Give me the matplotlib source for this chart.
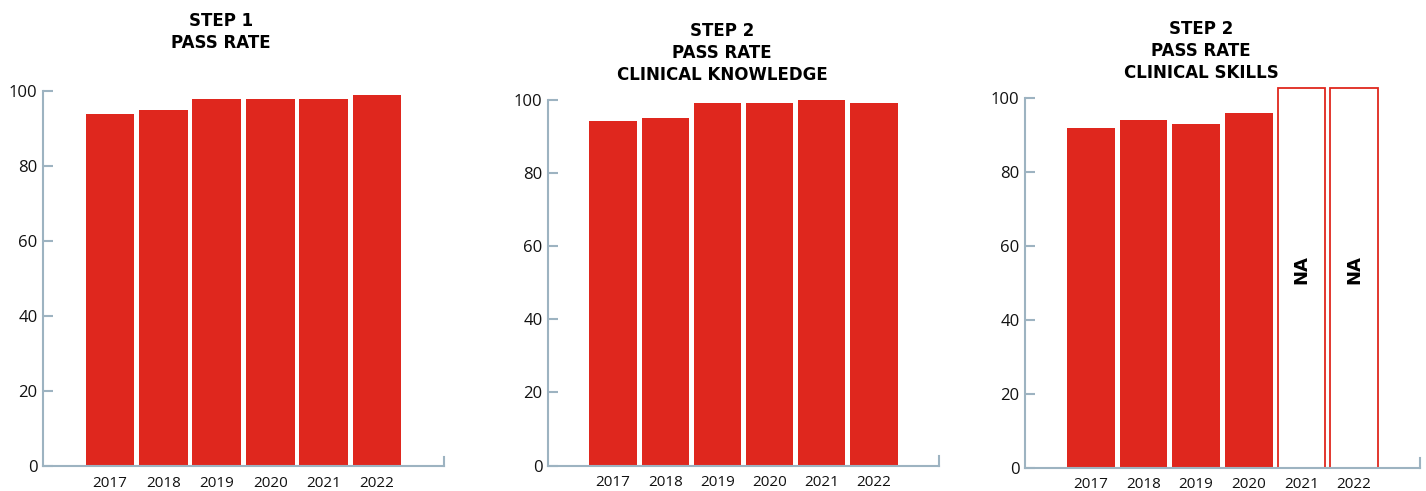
import numpy as np
import matplotlib
matplotlib.use("Agg")
import matplotlib.pyplot as plt

years = ["2017", "2018", "2019", "2020", "2021", "2022"]
step1_pass = [94, 95, 98, 98, 98, 99]
step2_ck_pass = [94, 95, 99, 99, 100, 99]
step2_cs_pass = [92, 94, 93, 96, np.nan, np.nan]
titles = ["STEP 1\nPASS RATE",
          "STEP 2\nPASS RATE\nCLINICAL KNOWLEDGE",
          "STEP 2\nPASS RATE\nCLINICAL SKILLS"]
na_label = "NA"
na_height = 102.7

BAR = "#df271e"
AXIS = "#9db3c1"
W, H = 1426, 491

fig = plt.figure(figsize=(W / 100, H / 100), dpi=100)

# pixel boxes: left, right, y of 0, y of 100
boxes = [(43, 444, 466, 91), (548, 939, 465.5, 99.5), (1025, 1420, 467.5, 98)]
title_pos = [(221, 12), (722, 22), (1201, 20)]
series = [step1_pass, step2_ck_pass, step2_cs_pass]

for vals, (l, r, y0, y1), title, (tx, ty) in zip(series, boxes, titles, title_pos):
  ax = fig.add_axes([l / W, 1 - y0 / H, (r - l) / W, (y0 - y1) / H])
  x = np.arange(len(years))
  vals = np.array(vals, dtype=float)
  ok = ~np.isnan(vals)
  ax.bar(x[ok], vals[ok], width=0.91, color=BAR, linewidth=0, clip_on=False)
  for i in x[~ok]:
    ax.bar(i, na_height, width=0.91, facecolor="white", edgecolor=BAR,
           linewidth=1.3, clip_on=False)
    ax.text(i, 53.5, na_label, rotation=90, ha="center", va="center",
            fontsize=13, fontweight="bold", family="DejaVu Sans")
  ax.set_xlim(-1.25, 6.25)
  ax.set_ylim(0, 100)
  ax.set_xticks(x)
  ax.set_xticklabels(years)
  ax.set_yticks(np.arange(0, 101, 20))
  ax.spines["top"].set_visible(False)
  for s in ["left", "bottom", "right"]:
    ax.spines[s].set_color(AXIS)
    ax.spines[s].set_linewidth(1.5)
  ax.spines["right"].set_bounds(0, 2.5)
  ax.tick_params(axis="y", direction="in", length=7, width=1.5, color=AXIS,
                 pad=4, labelsize=12, labelcolor="#111111")
  ax.tick_params(axis="x", length=0, pad=7, labelsize=11, labelcolor="#111111")
  for lab in ax.get_xticklabels() + ax.get_yticklabels():
    lab.set_family("Open Sans")
  ax.patch.set_alpha(0)
  fig.text(tx / W, 1 - ty / H, title, ha="center", va="top", fontsize=12,
           fontweight="bold", family="DejaVu Sans", linespacing=1.3)

fig.savefig("out.png", dpi=100)
